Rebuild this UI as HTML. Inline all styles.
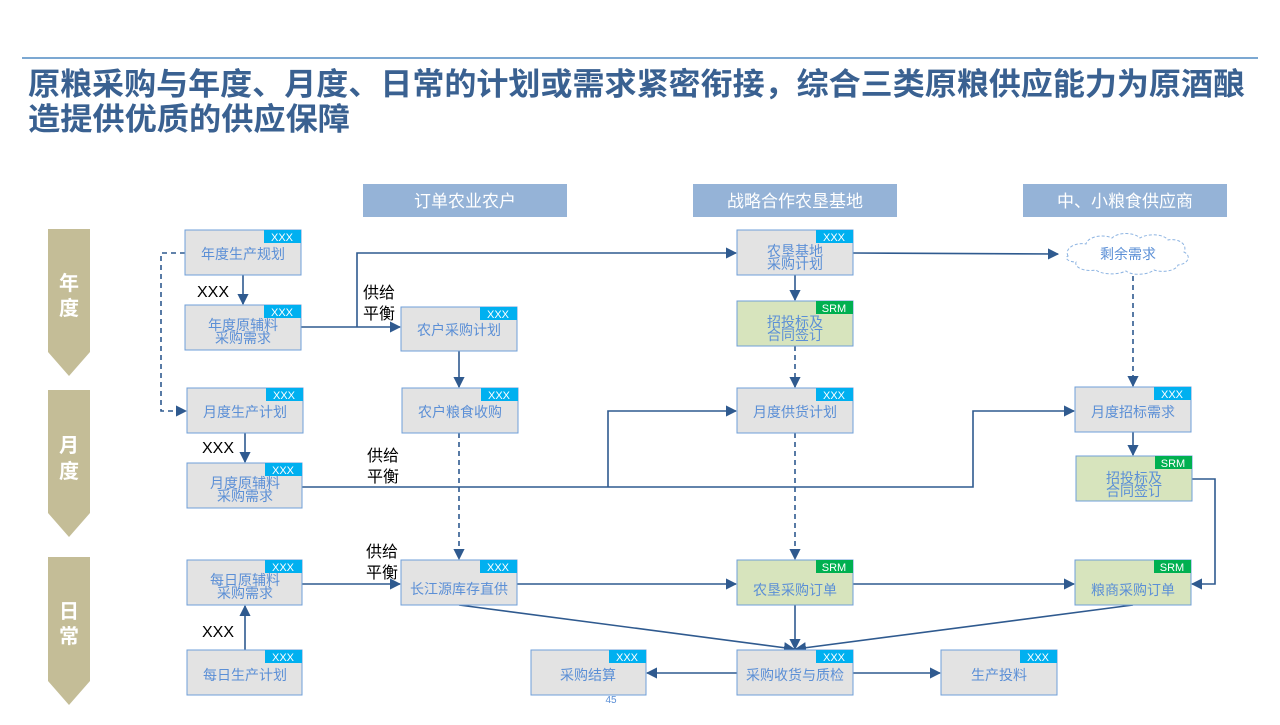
<!DOCTYPE html>
<html><head><meta charset="utf-8"><style>
body{margin:0;background:#fff;width:1280px;height:720px;overflow:hidden;font-family:"Liberation Sans","Noto Sans CJK SC",sans-serif}
</style></head><body>
<svg width="1280" height="720" viewBox="0 0 1280 720" xmlns="http://www.w3.org/2000/svg" font-family="Liberation Sans, Noto Sans CJK SC, sans-serif">
<defs>
<marker id="a" viewBox="0 0 10 10" refX="9" refY="5" markerWidth="7" markerHeight="7" orient="auto"><path d="M0,0L10,5L0,10z" fill="#2f5a8f"/></marker>
</defs>
<line x1="22" y1="58" x2="1258" y2="58" stroke="#2e75b6" stroke-width="1.2"/>
<g fill="#3a6191" font-weight="bold" font-size="31">
<text x="28" y="95" textLength="1217" lengthAdjust="spacingAndGlyphs">原粮采购与年度、月度、日常的计划或需求紧密衔接，综合三类原粮供应能力为原酒酿</text>
<text x="28" y="130" textLength="322" lengthAdjust="spacingAndGlyphs">造提供优质的供应保障</text>
</g>
<g fill="#95b3d7"><rect x="363" y="184" width="204" height="33"/><rect x="693" y="184" width="204" height="33"/><rect x="1023" y="184" width="204" height="33"/></g>
<g fill="#fff" font-size="17" text-anchor="middle"><text x="465" y="207">订单农业农户</text><text x="795" y="207">战略合作农垦基地</text><text x="1125" y="207">中、小粮食供应商</text></g>
<g fill="#c4bd97">
<path d="M48,229H90V352L69,376L48,352Z"/><path d="M48,390H90V513L69,537L48,513Z"/><path d="M48,557H90V681L69,705L48,681Z"/>
</g>
<g fill="#fff" font-size="20" font-weight="bold" text-anchor="middle">
<text x="69" y="290">年</text><text x="69" y="315">度</text>
<text x="69" y="452">月</text><text x="69" y="478">度</text>
<text x="69" y="618">日</text><text x="69" y="643">常</text>
</g>
<g stroke="#2f5a8f" stroke-width="1.6" fill="none">
<path d="M243,275V304" marker-end="url(#a)"/>
<path d="M301,327H400" marker-end="url(#a)"/>
<path d="M357,327V253H736" marker-end="url(#a)"/>
<path d="M459,351V387" marker-end="url(#a)"/>
<path d="M795,275V300" marker-end="url(#a)"/>
<path d="M853,253L1058,254" marker-end="url(#a)"/>
<path d="M245,433V462" marker-end="url(#a)"/>
<path d="M302,487H973V411H1074" marker-end="url(#a)"/>
<path d="M608,487V411H736" marker-end="url(#a)"/>
<path d="M1133,432V455" marker-end="url(#a)"/>
<path d="M1192,479H1215V584H1192" marker-end="url(#a)"/>
<path d="M302,584H400" marker-end="url(#a)"/>
<path d="M245,650V606" marker-end="url(#a)"/>
<path d="M517,584H736" marker-end="url(#a)"/>
<path d="M853,584H1074" marker-end="url(#a)"/>
<path d="M459,605L794,649" marker-end="url(#a)"/>
<path d="M795,605V649" marker-end="url(#a)"/>
<path d="M1133,605L796,649" marker-end="url(#a)"/>
<path d="M737,673H647" marker-end="url(#a)"/>
<path d="M853,673H940" marker-end="url(#a)"/>
</g>
<g stroke="#2f5a8f" stroke-width="1.6" fill="none" stroke-dasharray="5,4">
<path d="M185,253H161V411H186" marker-end="url(#a)"/>
<path d="M795,346V387" marker-end="url(#a)"/>
<path d="M1133,276V386" marker-end="url(#a)"/>
<path d="M459,433V559" marker-end="url(#a)"/>
<path d="M795,433V559" marker-end="url(#a)"/>
</g>
<path d="M1068,256c-4,-8 8,-14 18,-12c2,-8 18,-10 26,-6c6,-6 22,-6 28,0c8,-5 24,-4 28,2c10,-2 20,4 16,12c8,4 4,12 -6,13c-2,6 -16,8 -24,5c-6,5 -22,6 -28,1c-8,4 -24,4 -30,-1c-10,2 -22,-2 -20,-8c-8,0 -12,-4 -8,-6z" fill="#fff" stroke="#8db4e2" stroke-width="1" stroke-dasharray="3,2"/>
<text x="1128" y="259" font-size="14" fill="#5b8fd6" text-anchor="middle">剩余需求</text>
<g font-size="16" fill="#000">
<text x="197" y="297">XXX</text><text x="202" y="453">XXX</text><text x="202" y="637">XXX</text>
<text x="363" y="298">供给</text><text x="363" y="319">平衡</text>
<text x="367" y="461">供给</text><text x="367" y="482">平衡</text>
<text x="366" y="557">供给</text><text x="366" y="578">平衡</text>
</g>
<g font-size="14" fill="#5b8fd6" text-anchor="middle">
<g><rect x="185" y="230" width="116" height="45" fill="#e3e3e3" stroke="#6f9fd8"/><rect x="264" y="230" width="37" height="13" fill="#00b0f0"/><text x="282" y="241" font-size="11" fill="#fff">XXX</text><text x="243" y="259">年度生产规划</text></g>
<g><rect x="185" y="305" width="116" height="45" fill="#e3e3e3" stroke="#6f9fd8"/><rect x="264" y="305" width="37" height="13" fill="#00b0f0"/><text x="282" y="316" font-size="11" fill="#fff">XXX</text><text x="243" y="330">年度原辅料</text><text x="243" y="343">采购需求</text></g>
<g><rect x="401" y="307" width="116" height="44" fill="#e3e3e3" stroke="#6f9fd8"/><rect x="480" y="307" width="37" height="13" fill="#00b0f0"/><text x="498" y="318" font-size="11" fill="#fff">XXX</text><text x="459" y="335">农户采购计划</text></g>
<g><rect x="737" y="230" width="116" height="45" fill="#e3e3e3" stroke="#6f9fd8"/><rect x="816" y="230" width="37" height="13" fill="#00b0f0"/><text x="834" y="241" font-size="11" fill="#fff">XXX</text><text x="795" y="256">农垦基地</text><text x="795" y="269">采购计划</text></g>
<g><rect x="737" y="301" width="116" height="45" fill="#d7e4bd" stroke="#6f9fd8"/><rect x="816" y="301" width="37" height="13" fill="#00b050"/><text x="834" y="312" font-size="11" fill="#fff">SRM</text><text x="795" y="327">招投标及</text><text x="795" y="340">合同签订</text></g>
<g><rect x="187" y="388" width="116" height="45" fill="#e3e3e3" stroke="#6f9fd8"/><rect x="266" y="388" width="37" height="13" fill="#00b0f0"/><text x="284" y="399" font-size="11" fill="#fff">XXX</text><text x="245" y="417">月度生产计划</text></g>
<g><rect x="402" y="388" width="116" height="45" fill="#e3e3e3" stroke="#6f9fd8"/><rect x="481" y="388" width="37" height="13" fill="#00b0f0"/><text x="499" y="399" font-size="11" fill="#fff">XXX</text><text x="460" y="417">农户粮食收购</text></g>
<g><rect x="737" y="388" width="116" height="45" fill="#e3e3e3" stroke="#6f9fd8"/><rect x="816" y="388" width="37" height="13" fill="#00b0f0"/><text x="834" y="399" font-size="11" fill="#fff">XXX</text><text x="795" y="417">月度供货计划</text></g>
<g><rect x="1075" y="387" width="116" height="45" fill="#e3e3e3" stroke="#6f9fd8"/><rect x="1154" y="387" width="37" height="13" fill="#00b0f0"/><text x="1172" y="398" font-size="11" fill="#fff">XXX</text><text x="1133" y="417">月度招标需求</text></g>
<g><rect x="187" y="463" width="115" height="45" fill="#e3e3e3" stroke="#6f9fd8"/><rect x="265" y="463" width="37" height="13" fill="#00b0f0"/><text x="283" y="474" font-size="11" fill="#fff">XXX</text><text x="245" y="488">月度原辅料</text><text x="245" y="501">采购需求</text></g>
<g><rect x="1076" y="456" width="116" height="45" fill="#d7e4bd" stroke="#6f9fd8"/><rect x="1155" y="456" width="37" height="13" fill="#00b050"/><text x="1173" y="467" font-size="11" fill="#fff">SRM</text><text x="1134" y="483">招投标及</text><text x="1134" y="496">合同签订</text></g>
<g><rect x="187" y="560" width="115" height="45" fill="#e3e3e3" stroke="#6f9fd8"/><rect x="265" y="560" width="37" height="13" fill="#00b0f0"/><text x="283" y="571" font-size="11" fill="#fff">XXX</text><text x="245" y="585">每日原辅料</text><text x="245" y="598">采购需求</text></g>
<g><rect x="401" y="560" width="116" height="45" fill="#e3e3e3" stroke="#6f9fd8"/><rect x="480" y="560" width="37" height="13" fill="#00b0f0"/><text x="498" y="571" font-size="11" fill="#fff">XXX</text><text x="459" y="594">长江源库存直供</text></g>
<g><rect x="737" y="560" width="116" height="45" fill="#d7e4bd" stroke="#6f9fd8"/><rect x="816" y="560" width="37" height="13" fill="#00b050"/><text x="834" y="571" font-size="11" fill="#fff">SRM</text><text x="795" y="595">农垦采购订单</text></g>
<g><rect x="1075" y="560" width="116" height="45" fill="#d7e4bd" stroke="#6f9fd8"/><rect x="1154" y="560" width="37" height="13" fill="#00b050"/><text x="1172" y="571" font-size="11" fill="#fff">SRM</text><text x="1133" y="595">粮商采购订单</text></g>
<g><rect x="187" y="650" width="115" height="45" fill="#e3e3e3" stroke="#6f9fd8"/><rect x="265" y="650" width="37" height="13" fill="#00b0f0"/><text x="283" y="661" font-size="11" fill="#fff">XXX</text><text x="245" y="680">每日生产计划</text></g>
<g><rect x="531" y="650" width="115" height="45" fill="#e3e3e3" stroke="#6f9fd8"/><rect x="609" y="650" width="37" height="13" fill="#00b0f0"/><text x="627" y="661" font-size="11" fill="#fff">XXX</text><text x="588" y="680">采购结算</text></g>
<g><rect x="737" y="650" width="116" height="45" fill="#e3e3e3" stroke="#6f9fd8"/><rect x="816" y="650" width="37" height="13" fill="#00b0f0"/><text x="834" y="661" font-size="11" fill="#fff">XXX</text><text x="795" y="680">采购收货与质检</text></g>
<g><rect x="941" y="650" width="116" height="45" fill="#e3e3e3" stroke="#6f9fd8"/><rect x="1020" y="650" width="37" height="13" fill="#00b0f0"/><text x="1038" y="661" font-size="11" fill="#fff">XXX</text><text x="999" y="680">生产投料</text></g>
<text x="611" y="703" font-size="10">45</text>
</g>
</svg>
</body></html>
